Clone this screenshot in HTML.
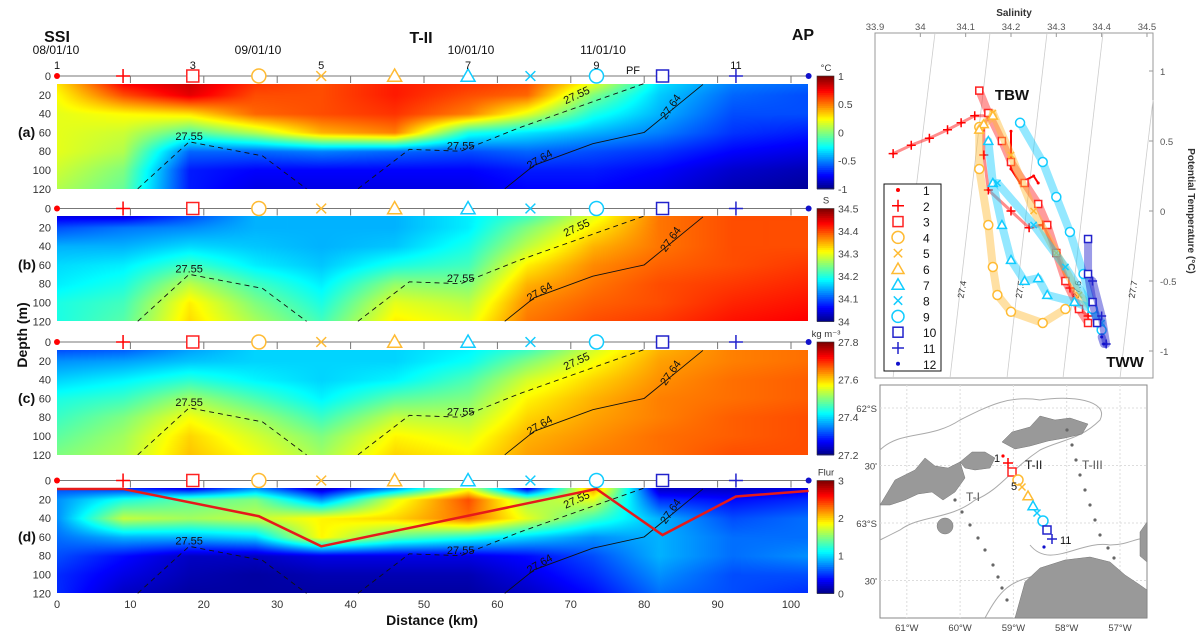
<!DOCTYPE html>
<html><head><meta charset="utf-8">
<style>
body{margin:0;background:#fff;width:1201px;height:639px;overflow:hidden;position:relative;font-family:"Liberation Sans",sans-serif}
canvas{position:absolute}
svg{position:absolute;left:0;top:0}
</style></head>
<body>
<div id="hm"></div>
<svg id="s" width="1201" height="639"></svg>
<script>
// ---- data ----
const gridKm=[0,9,18,27,36,46,56,64,73,82,92,102.4];
const gridDepth=[8,20,40,60,80,100,120];
const tempVals=[
[0.3,0.75,0.85,0.65,0.6,0.7,0.65,0.6,0.2,-0.3,-0.5,-0.55],
[0.25,0.6,0.8,0.6,0.6,0.7,0.6,0.55,0.0,-0.35,-0.55,-0.6],
[0.2,0.25,0.3,0.55,0.6,0.65,0.5,0.2,-0.2,-0.4,-0.6,-0.6],
[0.2,0.15,-0.1,0.1,0.4,0.5,-0.2,-0.3,-0.4,-0.5,-0.65,-0.7],
[0.2,0.1,-0.55,-0.55,-0.5,-0.55,-0.6,-0.55,-0.6,-0.65,-0.75,-0.8],
[0.15,0.0,-0.7,-0.75,-0.75,-0.75,-0.75,-0.7,-0.7,-0.75,-0.85,-0.9],
[0.1,-0.05,-0.7,-0.8,-0.8,-0.8,-0.8,-0.75,-0.75,-0.8,-0.9,-0.95]];
const salVals=[
[34.05,34.05,34.1,34.15,34.15,34.15,34.18,34.22,34.3,34.38,34.4,34.4],
[34.1,34.12,34.13,34.15,34.15,34.15,34.18,34.25,34.32,34.38,34.4,34.4],
[34.15,34.15,34.17,34.16,34.15,34.16,34.2,34.28,34.35,34.38,34.4,34.4],
[34.17,34.18,34.22,34.18,34.16,34.2,34.22,34.32,34.37,34.39,34.4,34.41],
[34.18,34.2,34.28,34.22,34.18,34.26,34.25,34.35,34.38,34.4,34.41,34.42],
[34.2,34.22,34.32,34.25,34.2,34.3,34.28,34.37,34.39,34.4,34.42,34.43],
[34.2,34.23,34.33,34.27,34.22,34.32,34.3,34.38,34.4,34.41,34.43,34.44]];
const densVals=[
[27.32,27.33,27.37,27.4,27.4,27.4,27.42,27.46,27.55,27.62,27.65,27.66],
[27.36,27.37,27.39,27.4,27.4,27.4,27.43,27.5,27.57,27.63,27.65,27.66],
[27.4,27.42,27.45,27.42,27.4,27.42,27.47,27.55,27.6,27.64,27.66,27.67],
[27.44,27.46,27.52,27.47,27.42,27.48,27.5,27.58,27.62,27.65,27.66,27.67],
[27.46,27.5,27.57,27.52,27.46,27.54,27.53,27.6,27.63,27.65,27.67,27.68],
[27.48,27.52,27.6,27.55,27.5,27.58,27.56,27.62,27.64,27.66,27.67,27.68],
[27.5,27.53,27.61,27.57,27.52,27.6,27.58,27.63,27.65,27.66,27.68,27.68]];
const flurVals=[
[0.6,0.5,0.3,0.8,0.2,0.8,1.8,0.3,2.2,0.2,0.2,0.3],
[0.8,1.2,1.4,1.5,0.8,1.8,2.4,1.6,1.8,0.5,0.4,0.5],
[0.8,1.7,1.6,1.7,1.9,2.0,2.3,1.8,1.3,0.9,0.6,0.7],
[0.7,0.9,0.9,1.0,1.9,1.4,1.2,1.0,0.8,0.9,0.7,0.7],
[0.6,0.4,0.2,0.2,0.3,0.3,0.3,0.4,0.6,0.9,0.7,0.8],
[0.5,0.3,0.15,0.1,0.15,0.15,0.15,0.3,0.5,0.8,0.6,0.6],
[0.5,0.2,0.1,0.1,0.1,0.1,0.1,0.2,0.4,0.7,0.6,0.5]];
const stationKm=[0,9,18.5,27.5,36,46,56,64.5,73.5,82.5,92.5,102.4];
const stationColors=["#f00","#f00","#f22","#fb3","#fb3","#fb3","#1cf","#1cf","#1cf","#22c","#22c","#11c"];
const stationShapes=["dot","plus","square","circle","x","tri","tri","x","circle","square","plus","dot"];
const mldKm=[0,9,27.5,36,73.5,82.5,92.5,102.4];
const mldDepth=[9,9,38,70,9,58,17,11];
const iso55aKm=[11,18,28,34],iso55aD=[120,70,85,120];
const iso55bKm=[41,48,55,63,80],iso55bD=[120,78,80,55,8];
const iso64Km=[61,65,73,80,88],iso64D=[120,95,72,60,9];
const xTicks=[0,10,20,30,40,50,60,70,80,90,100];
const depthTicks=[0,20,40,60,80,100,120];
// T-S series
const tsSal=[
[34.2,34.2,34.22,34.25,34.26],
[33.94,33.98,34.02,34.06,34.09,34.12,34.15,34.14,34.14,34.15,34.2,34.24,34.27,34.3,34.33,34.35,34.37],
[34.13,34.15,34.18,34.2,34.23,34.26,34.28,34.3,34.32,34.35,34.37],
[34.13,34.13,34.15,34.16,34.17,34.2,34.27,34.32],
[34.16,34.2,34.25,34.3,34.35,34.38],
[34.16,34.14,34.13],
[34.15,34.16,34.18,34.2,34.23,34.26,34.28,34.34,34.38],
[34.17,34.25,34.32,34.4],
[34.22,34.27,34.3,34.33,34.36,34.38,34.4],
[34.37,34.37,34.38,34.39],
[34.38,34.4,34.41],
[34.4,34.405]];
const tsTemp=[
[0.57,0.3,0.2,0.25,0.2],
[0.41,0.47,0.52,0.58,0.63,0.68,0.68,0.6,0.4,0.15,0.0,-0.12,-0.1,-0.3,-0.55,-0.7,-0.75],
[0.86,0.7,0.5,0.35,0.2,0.05,-0.1,-0.3,-0.5,-0.7,-0.8],
[0.6,0.3,-0.1,-0.4,-0.6,-0.72,-0.8,-0.7],
[0.7,0.4,0.0,-0.3,-0.6,-0.7],
[0.68,0.62,0.58],
[0.5,0.2,-0.1,-0.35,-0.5,-0.48,-0.6,-0.65,-0.7],
[0.2,-0.1,-0.4,-0.8],
[0.63,0.35,0.1,-0.15,-0.45,-0.7,-0.85],
[-0.2,-0.45,-0.65,-0.8],
[-0.5,-0.75,-0.95],
[-0.9,-0.95]];
const salTicks=[33.9,34,34.1,34.2,34.3,34.4,34.5];
const tempTicks=[1,0.5,0,-0.5,-1];
const lonTicks=[61,60,59,58,57];
const latTicks=[62,62.5,63,63.5];

// ---- helpers ----
const S=document.getElementById('s');const NS="http://www.w3.org/2000/svg";
function el(t,a,p){const e=document.createElementNS(NS,t);for(const k in a)e.setAttribute(k,a[k]);(p||S).appendChild(e);return e;}
function txt(x,y,s,a,p){const e=el('text',Object.assign({x:x,y:y,'font-size':11,fill:'#222','font-family':'"Liberation Sans",sans-serif'},a||{}),p);e.textContent=s;return e;}
const X0=57,PXKM=7.34,XR=808;
const xk=k=>X0+k*PXKM;
const bases=[76,208.5,342,480.5];
const yd=(b,d)=>b+d*0.94;
function jet(t){t=Math.max(0,Math.min(1,t));const c=v=>Math.round(255*Math.max(0,Math.min(1,v)));return [c(1.5-Math.abs(4*t-3)),c(1.5-Math.abs(4*t-2)),c(1.5-Math.abs(4*t-1))];}
function interp(arr,v){let i=0;while(i<arr.length-2&&v>arr[i+1])i++;let f=(v-arr[i])/(arr[i+1]-arr[i]);return [i,Math.max(0,Math.min(1,f))];}
const panels=[
{vals:tempVals,min:-1,max:1,name:'temperature',unit:'°C',ticks:[1,0.5,0,-0.5,-1],lab:'(a)'},
{vals:salVals,min:34,max:34.5,name:'salinity',unit:'S',ticks:[34.5,34.4,34.3,34.2,34.1,34],lab:'(b)'},
{vals:densVals,min:27.2,max:27.8,name:'density',unit:'kg m⁻³',ticks:[27.8,27.6,27.4,27.2],lab:'(c)'},
{vals:flurVals,min:0,max:3,name:'fluorescence',unit:'Flur',ticks:[3,2,1,0],lab:'(d)'}];
const hm=document.getElementById('hm');
panels.forEach((P,pi)=>{
  const b=bases[pi];const top=Math.round(yd(b,8.5)),bot=Math.round(yd(b,120));
  const w=XR-X0,h=bot-top;
  const cv=document.createElement('canvas');cv.width=w;cv.height=h;cv.style.left=X0+'px';cv.style.top=top+'px';
  
  
  hm.appendChild(cv);const ctx=cv.getContext('2d');const im=ctx.createImageData(w,h);
  for(let py=0;py<h;py++){const d=(top+py-b)/0.94;const [ri,rf]=interp(gridDepth,d);
    for(let px=0;px<w;px++){const k=px/PXKM;const [ci,cf]=interp(gridKm,k);const V=P.vals;
      const v=(V[ri][ci]*(1-cf)+V[ri][ci+1]*cf)*(1-rf)+(V[ri+1][ci]*(1-cf)+V[ri+1][ci+1]*cf)*rf;
      const c=jet((v-P.min)/(P.max-P.min));const o=(py*w+px)*4;im.data[o]=c[0];im.data[o+1]=c[1];im.data[o+2]=c[2];im.data[o+3]=255;}}
  ctx.putImageData(im,0,0);
  const cb=el('g',{});
  const cbTop=yd(b,0),cbBot=yd(b,120);
  for(let i=0;i<60;i++){const c=jet(1-i/60);el('rect',{x:817,y:cbTop+(cbBot-cbTop)*i/60,width:17,height:(cbBot-cbTop)/60+0.6,fill:`rgb(${c})`},cb);}
  el('rect',{x:817,y:cbTop,width:17,height:cbBot-cbTop,fill:'none',stroke:'#333','stroke-width':0.6},cb);
  P.ticks.forEach(t=>{const y=cbBot-(t-P.min)/(P.max-P.min)*(cbBot-cbTop);txt(838,y+4,String(t),{'font-size':10.5,fill:'#444'},cb);});
  txt(826,cbTop-5,P.unit,{'font-size':9.5,fill:'#333','text-anchor':'middle'},cb);
  const sl=el('g',{});
  el('line',{x1:X0,x2:XR,y1:b,y2:b,stroke:'#777','stroke-width':1},sl);
  xTicks.slice(1).forEach(t=>el('line',{x1:xk(t),x2:xk(t),y1:b,y2:b+7,stroke:'#777'},sl));
  stationKm.forEach((k,i)=>drawMarker(sl,xk(k),b,stationShapes[i],stationColors[i],i==0||i==11?3:7,'station-marker-'+(i+1)));
  depthTicks.forEach(d=>txt(51,yd(b,d)+4,String(d),{'font-size':11,'text-anchor':'end',fill:'#333'}));
  txt(18,yd(b,65),P.lab,{'font-size':14,'font-weight':'bold',fill:'#111'});
  const iso=(ks,ds,dash,name)=>{const p=el('polyline',{points:ks.map((k,i)=>xk(k)+','+yd(b,ds[i])).join(' '),fill:'none',stroke:'#111','stroke-width':0.9,'stroke-dasharray':dash});};
  iso(iso55aKm,iso55aD,'5,4','isopycnal-27.55-a');iso(iso55bKm,iso55bD,'5,4','isopycnal-27.55-b');iso(iso64Km,iso64D,'none','isopycnal-27.64');
  txt(xk(18),yd(b,68),'27.55',{'font-size':11,fill:'#111','text-anchor':'middle'});
  txt(xk(55),yd(b,78),'27.55',{'font-size':11,fill:'#111','text-anchor':'middle'});
  txt(xk(66),yd(b,92),'27.64',{'font-size':11,fill:'#111','text-anchor':'middle',transform:`rotate(-30 ${xk(66)} ${yd(b,92)})`});
  txt(xk(84),yd(b,35),'27.64',{'font-size':11,fill:'#111','text-anchor':'middle',transform:`rotate(-55 ${xk(84)} ${yd(b,35)})`});
  txt(xk(71),yd(b,24),'27.55',{'font-size':11,fill:'#111','text-anchor':'middle',transform:`rotate(-25 ${xk(71)} ${yd(b,24)})`});
});
function drawMarker(g,x,y,shape,c,r,name){let e;
  if(shape=='dot')e=el('circle',{cx:x,cy:y,r:r,fill:c},g);
  else if(shape=='plus')e=el('path',{d:`M${x-r} ${y}H${x+r}M${x} ${y-r}V${y+r}`,stroke:c,'stroke-width':1.5,fill:'none'},g);
  else if(shape=='square')e=el('rect',{x:x-r+1,y:y-r+1,width:2*r-2,height:2*r-2,stroke:c,'stroke-width':1.5,fill:'#fff'},g);
  else if(shape=='circle')e=el('circle',{cx:x,cy:y,r:r,stroke:c,'stroke-width':1.5,fill:'#fff'},g);
  else if(shape=='x')e=el('path',{d:`M${x-r*0.7} ${y-r*0.7}L${x+r*0.7} ${y+r*0.7}M${x-r*0.7} ${y+r*0.7}L${x+r*0.7} ${y-r*0.7}`,stroke:c,'stroke-width':1.5},g);
  else e=el('path',{d:`M${x} ${y-r}L${x+r} ${y+r*0.75}L${x-r} ${y+r*0.75}Z`,stroke:c,'stroke-width':1.5,fill:'#fff'},g);
  return e;}
const ml=el('polyline',{points:mldKm.map((k,i)=>xk(k)+','+yd(bases[3],mldDepth[i])).join(' '),fill:'none',stroke:'#e51a1a','stroke-width':2.5});

xTicks.forEach(t=>txt(xk(t),608,String(t),{'font-size':11,'text-anchor':'middle',fill:'#333'}));
txt(432,625,'Distance (km)',{'font-size':14,'font-weight':'bold','text-anchor':'middle',fill:'#111'});
txt(27,335,'Depth (m)',{'font-size':14,'font-weight':'bold','text-anchor':'middle',fill:'#111',transform:'rotate(-90 27 335)'});
txt(57,42,'SSI',{'font-size':16,'font-weight':'bold','text-anchor':'middle',fill:'#111'});
txt(421,43,'T-II',{'font-size':16,'font-weight':'bold','text-anchor':'middle',fill:'#111'});
txt(803,40,'AP',{'font-size':16,'font-weight':'bold','text-anchor':'middle',fill:'#111'});
[['08/01/10',56],['09/01/10',258],['10/01/10',471],['11/01/10',603]].forEach(d=>txt(d[1],54,d[0],{'font-size':12,'text-anchor':'middle',fill:'#111'}));
[['1',0],['3',18.5],['5',36],['7',56],['9',73.5],['11',92.5]].forEach(d=>txt(xk(d[1]),69,d[0],{'font-size':11,'text-anchor':'middle',fill:'#111'}));
txt(633,74,'PF',{'font-size':11,'text-anchor':'middle',fill:'#111'});

// ---- T-S diagram ----
const tsx=s=>875+(s-33.9)*453.3, tsy=t=>211-140*t;
const ts=el('g',{});
el('rect',{x:875,y:33,width:278,height:345,fill:'#fff',stroke:'#999'},ts);
[[893,378,935,33],[950,378,990,33],[1007,378,1047,33],[1063,378,1103,33],[1120,378,1153,100]].forEach(l=>el('line',{x1:l[0],y1:l[1],x2:l[2],y2:l[3],stroke:'#ccc','stroke-width':0.8},ts));
[['27.4',965,290],['27.5',1023,290],['27.6',1080,290],['27.7',1136,290]].forEach(d=>txt(d[1],d[2],d[0],{'font-size':9,fill:'#333','text-anchor':'middle',transform:`rotate(-80 ${d[1]} ${d[2]})`},ts));
salTicks.forEach(s=>{txt(tsx(s),30,String(s),{'font-size':9.5,fill:'#555','text-anchor':'middle'},ts);el('line',{x1:tsx(s),x2:tsx(s),y1:33,y2:37,stroke:'#999'},ts);});
tempTicks.forEach(t=>{txt(1160,tsy(t)+4,String(t),{'font-size':9.5,fill:'#555'},ts);el('line',{x1:1149,x2:1153,y1:tsy(t),y2:tsy(t),stroke:'#999'},ts);});
txt(1014,16,'Salinity',{'font-size':10,'font-weight':'bold','text-anchor':'middle',fill:'#333'},ts);
txt(1188,211,'Potential Temperature (°C)',{'font-size':10,'font-weight':'bold','text-anchor':'middle',fill:'#333',transform:'rotate(90 1188 211)'},ts);
tsSal.forEach((arr,si)=>{const g=el('g',{},ts);
  const pts=arr.map((s,i)=>[tsx(s),tsy(tsTemp[si][i])]);
  el('polyline',{points:pts.map(p=>p.join(',')).join(' '),fill:'none',stroke:stationColors[si],'stroke-width':si==0?2:(si==1?3:8),'stroke-opacity':si==0?1:0.45,'stroke-linejoin':'round','stroke-linecap':'round'},g);
  pts.forEach(p=>drawMarker(g,p[0],p[1],stationShapes[si],stationColors[si],si==0||si==11?1.5:4.5,'ts-point'));});
txt(1012,100,'TBW',{'font-size':15,'font-weight':'bold',fill:'#111','text-anchor':'middle'},ts);
txt(1125,367,'TWW',{'font-size':15,'font-weight':'bold',fill:'#111','text-anchor':'middle'},ts);
const lg=el('g',{},ts);
el('rect',{x:884,y:184,width:57,height:187,fill:'#fff',stroke:'#111','stroke-width':1},lg);
stationKm.forEach((k,i)=>{const y=190+i*15.8;drawMarker(lg,898,y,stationShapes[i],stationColors[i],i==0||i==11?2:6,'legend-marker-'+(i+1));txt(923,y+5,String(i+1),{'font-size':12,fill:'#111'},lg);});

// ---- Map ----
const mp=el('g',{});
el('rect',{x:880,y:385,width:267,height:233,fill:'#fff',stroke:'#888'},mp);
const lonX=l=>1120-(l-57)*53.3, latY=l=>408+(l-62)*115;
lonTicks.forEach(l=>{el('line',{x1:lonX(l),x2:lonX(l),y1:385,y2:618,stroke:'#ddd','stroke-dasharray':'2,2'},mp);txt(lonX(l),631,l+'°W',{'font-size':9.5,fill:'#444','text-anchor':'middle'},mp);});
latTicks.forEach(l=>{el('line',{x1:880,x2:1147,y1:latY(l),y2:latY(l),stroke:'#ddd','stroke-dasharray':'2,2'},mp);txt(877,latY(l)+4,l%1?"30'":l+'°S',{'font-size':9.5,fill:'#444','text-anchor':'end'},mp);});
el('path',{d:'M880 450 C900 430 930 440 960 420 C990 405 1010 395 1040 400 C1070 395 1110 400 1100 420 C1080 440 1060 440 1040 450 C1010 470 1000 490 975 500 C950 520 920 515 900 530 L880 540',fill:'none',stroke:'#aaa'},mp);
el('path',{d:'M1030 545 C1050 570 1080 540 1110 545 C1130 545 1140 535 1147 540 M985 618 C1000 590 1010 580 1040 575',fill:'none',stroke:'#aaa'},mp);
['M880 505 L895 480 L915 470 L925 458 L935 466 L948 468 L960 462 L965 478 L955 492 L943 500 L932 492 L918 494 L905 500 L890 505 Z',
 'M960 462 L972 452 L985 452 L995 458 L990 468 L975 470 L965 468 Z',
 'M1002 442 L1012 432 L1030 427 L1040 416 L1055 420 L1070 418 L1088 424 L1082 434 L1065 438 L1048 441 L1030 446 L1015 449 Z',
 'M1015 618 L1025 582 L1040 568 L1065 560 L1090 557 L1110 562 L1125 575 L1140 585 L1147 590 L1147 618 Z',
 'M1140 532 L1147 522 L1147 562 L1140 556 Z','M945 518 a8 8 0 1 0 0.1 0Z'].forEach(d=>el('path',{d:d,fill:'#999',stroke:'#777','stroke-width':0.5},mp));
[[955,500],[962,512],[970,525],[978,538],[985,550],[993,565],[998,577],[1002,588],[1007,600]].forEach(p=>el('circle',{cx:p[0],cy:p[1],r:1.6,fill:'#666'},mp));
[[1067,430],[1072,445],[1076,460],[1080,475],[1085,490],[1090,505],[1095,520],[1100,535],[1108,548],[1114,558]].forEach(p=>el('circle',{cx:p[0],cy:p[1],r:1.6,fill:'#666'},mp));
const mapSt=[[1003,456],[1008,463],[1012,472],[1018,480],[1022,487],[1028,496],[1033,506],[1037,513],[1043,521],[1047,530],[1052,539],[1044,547]];
mapSt.forEach((p,i)=>drawMarker(mp,p[0],p[1],stationShapes[i],stationColors[i],i==0||i==11?1.6:5,'map-station-'+(i+1)));
txt(994,462,'1',{'font-size':11,fill:'#111'},mp);txt(1011,490,'5',{'font-size':11,fill:'#111'},mp);txt(1060,544,'11',{'font-size':11,fill:'#111'},mp);
txt(1025,469,'T-II',{'font-size':12,fill:'#111'},mp);txt(966,501,'T-I',{'font-size':12,fill:'#555'},mp);txt(1082,469,'T-III',{'font-size':12,fill:'#555'},mp);
</script>
</body></html>
